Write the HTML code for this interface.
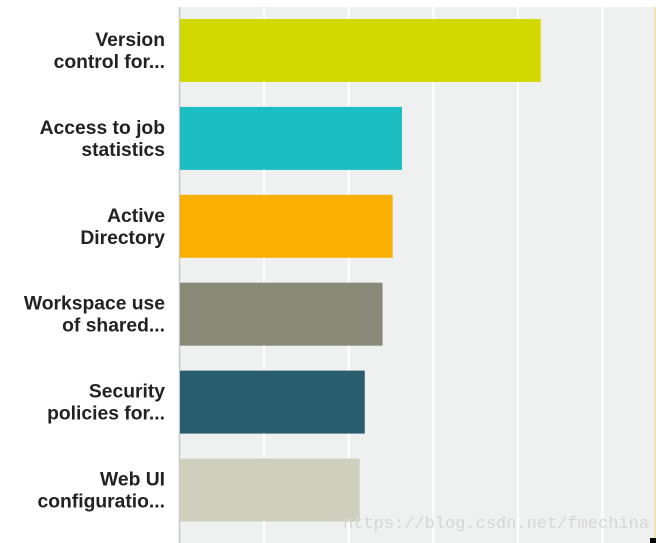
<!DOCTYPE html>
<html><head><meta charset="utf-8"><style>
html,body{margin:0;padding:0;background:#fff;width:656px;height:543px;overflow:hidden}
svg{display:block}
.lbl{font-family:"Liberation Sans",Arial,sans-serif}
</style></head><body>
<svg id="chart" width="656" height="543">
<rect x="179" y="7" width="477" height="536" fill="#eff0f0"/>
<g id="grid"></g>
<line x1="179.5" y1="7" x2="179.5" y2="543" stroke="#c8c8c8" stroke-width="1.5"/>
<line x1="655" y1="7" x2="655" y2="543" stroke="#f3dca0" stroke-width="1.5"/>
<g id="bars"></g>
<g id="labels"></g>
<text x="343" y="528" style="font-family:'Liberation Mono',monospace;font-size:17px" fill="#d6d6d6">https://blog.csdn.net/fmechina</text>
<rect x="650" y="538" width="6" height="5" fill="#000"/>
</svg>
<script>
const categories=[["Version","control for..."],["Access to job","statistics"],["Active","Directory"],["Workspace use","of shared..."],["Security","policies for..."],["Web UI","configuratio..."]];
const values=[42.7,26.3,25.2,24.0,21.9,21.3];
const colors=["#d1d900","#1cbec2","#f9b000","#898977","#2a5d6e","#cfcfbe"];
const gridTicks=[10,20,30,40,50];
const NS="http://www.w3.org/2000/svg";
const x0=179.5,pxPer=8.46,top0=19,pitch=87.9,bh=63;
const xs=v=>x0+v*pxPer;
const ys=i=>top0+i*pitch;
const grid=document.getElementById('grid'),bars=document.getElementById('bars'),labels=document.getElementById('labels');
gridTicks.forEach(t=>{
const l=document.createElementNS(NS,'line');
l.setAttribute('x1',xs(t));l.setAttribute('x2',xs(t));l.setAttribute('y1',7);l.setAttribute('y2',543);
l.setAttribute('stroke','#fff');l.setAttribute('stroke-width','2');


grid.appendChild(l);});
values.forEach((v,i)=>{
const r=document.createElementNS(NS,'rect');
r.setAttribute('x',x0+0.5);r.setAttribute('y',ys(i));r.setAttribute('width',xs(v)-x0-0.5);r.setAttribute('height',bh);r.setAttribute('fill',colors[i]);


bars.appendChild(r);
const t=document.createElementNS(NS,'text');
t.setAttribute('class','lbl');
t.setAttribute('text-anchor','end');t.setAttribute('font-size','19.3');t.setAttribute('font-weight','bold');t.setAttribute('fill','#222');


categories[i].forEach((s,j)=>{const sp=document.createElementNS(NS,'tspan');sp.setAttribute('x',165);sp.setAttribute('y',ys(i)+27+j*22);sp.textContent=s;t.appendChild(sp);});
labels.appendChild(t);
});
</script>
</body></html>
